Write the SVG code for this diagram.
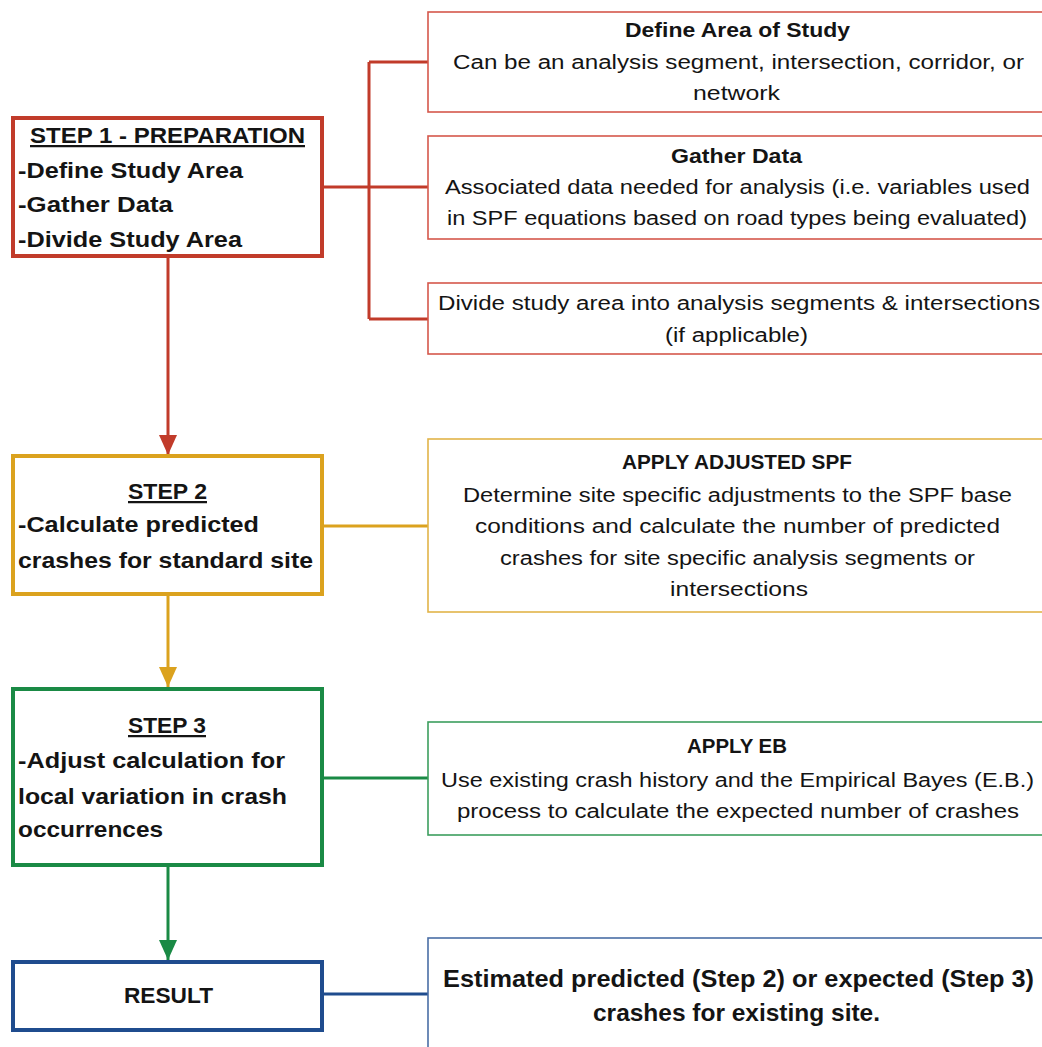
<svg xmlns="http://www.w3.org/2000/svg" width="1042" height="1047" viewBox="0 0 1042 1047">
<style>
text{font-family:"Liberation Sans",Arial,sans-serif;fill:#141414}
.lb{font-size:22.5px;font-weight:bold}
.hd{font-size:19.5px;font-weight:bold}
.bd{font-size:19.5px}
.rs{font-size:24.5px;font-weight:bold}
.u{text-decoration:underline}
.main{fill:#fff;stroke-width:4}
.side{fill:#fff;stroke-width:1.6}
.red{stroke:#C13B2A}
.redl{stroke:#D5584B}
.gold{stroke:#DBA21E}
.goldl{stroke:#E2B449}
.green{stroke:#1A8A45}
.greenl{stroke:#3C9E5E}
.blue{stroke:#1F4C8E}
.bluel{stroke:#4A6EA6}
.con{fill:none;stroke-width:3}
</style>
<defs>
<marker id="aRed" viewBox="0 0 20 18" refX="20" refY="9" markerWidth="20" markerHeight="18" markerUnits="userSpaceOnUse" orient="auto"><path d="M0,0L20,9L0,18Z" fill="#C13B2A"/></marker>
<marker id="aGold" viewBox="0 0 20 18" refX="20" refY="9" markerWidth="20" markerHeight="18" markerUnits="userSpaceOnUse" orient="auto"><path d="M0,0L20,9L0,18Z" fill="#DBA21E"/></marker>
<marker id="aGreen" viewBox="0 0 20 18" refX="20" refY="9" markerWidth="20" markerHeight="18" markerUnits="userSpaceOnUse" orient="auto"><path d="M0,0L20,9L0,18Z" fill="#1A8A45"/></marker>
</defs>

<g id="connectors">
<path class="con red" d="M324,187H428M369,62V319M369,62H428M369,319H428"/>
<path class="con red" d="M168,258V455" marker-end="url(#aRed)"/>
<path class="con gold" d="M324,526H428"/>
<path class="con gold" d="M168,596V687" marker-end="url(#aGold)"/>
<path class="con green" d="M324,778H428"/>
<path class="con green" d="M168,867V960" marker-end="url(#aGreen)"/>
<path class="con blue" d="M324,994H428"/>
</g>

<g id="step1">
<rect class="main red" x="13" y="118" width="309" height="138"/>
<text class="lb u" x="30" y="143" textLength="275" lengthAdjust="spacingAndGlyphs">STEP 1 - PREPARATION</text>
<text class="lb" x="18" y="178" textLength="225" lengthAdjust="spacingAndGlyphs">-Define Study Area</text>
<text class="lb" x="18" y="212" textLength="155" lengthAdjust="spacingAndGlyphs">-Gather Data</text>
<text class="lb" x="18" y="247" textLength="224" lengthAdjust="spacingAndGlyphs">-Divide Study Area</text>
</g>

<g id="define-area">
<rect class="side redl" x="428" y="12" width="618" height="100"/>
<text class="hd" x="737.5" y="37" text-anchor="middle" textLength="225" lengthAdjust="spacingAndGlyphs">Define Area of Study</text>
<text class="bd" x="738.5" y="69" text-anchor="middle" textLength="571" lengthAdjust="spacingAndGlyphs">Can be an analysis segment, intersection, corridor, or</text>
<text class="bd" x="736.5" y="100" text-anchor="middle" textLength="87" lengthAdjust="spacingAndGlyphs">network</text>
</g>

<g id="gather-data">
<rect class="side redl" x="428" y="136" width="618" height="103"/>
<text class="hd" x="736.5" y="163" text-anchor="middle" textLength="131" lengthAdjust="spacingAndGlyphs">Gather Data</text>
<text class="bd" x="737.5" y="194" text-anchor="middle" textLength="585" lengthAdjust="spacingAndGlyphs">Associated data needed for analysis (i.e. variables used</text>
<text class="bd" x="737" y="225" text-anchor="middle" textLength="580" lengthAdjust="spacingAndGlyphs">in SPF equations based on road types being evaluated)</text>
</g>

<g id="divide-area">
<rect class="side redl" x="428" y="283" width="618" height="71"/>
<text class="bd" x="739" y="310" text-anchor="middle" textLength="602" lengthAdjust="spacingAndGlyphs">Divide study area into analysis segments &amp; intersections</text>
<text class="bd" x="736.5" y="342" text-anchor="middle" textLength="143" lengthAdjust="spacingAndGlyphs">(if applicable)</text>
</g>

<g id="step2">
<rect class="main gold" x="13" y="456" width="309" height="138"/>
<text class="lb u" x="167.5" y="499" text-anchor="middle" textLength="79" lengthAdjust="spacingAndGlyphs">STEP 2</text>
<text class="lb" x="18" y="532" textLength="241" lengthAdjust="spacingAndGlyphs">-Calculate predicted</text>
<text class="lb" x="18" y="568" textLength="295" lengthAdjust="spacingAndGlyphs">crashes for standard site</text>
</g>

<g id="apply-spf">
<rect class="side goldl" x="428" y="439" width="618" height="173"/>
<text class="hd" x="737" y="469" text-anchor="middle" textLength="230" lengthAdjust="spacingAndGlyphs">APPLY ADJUSTED SPF</text>
<text class="bd" x="737.5" y="502" text-anchor="middle" textLength="549" lengthAdjust="spacingAndGlyphs">Determine site specific adjustments to the SPF base</text>
<text class="bd" x="737.5" y="533" text-anchor="middle" textLength="525" lengthAdjust="spacingAndGlyphs">conditions and calculate the number of predicted</text>
<text class="bd" x="737.5" y="565" text-anchor="middle" textLength="475" lengthAdjust="spacingAndGlyphs">crashes for site specific analysis segments or</text>
<text class="bd" x="739" y="596" text-anchor="middle" textLength="138" lengthAdjust="spacingAndGlyphs">intersections</text>
</g>

<g id="step3">
<rect class="main green" x="13" y="689" width="309" height="176"/>
<text class="lb u" x="167" y="733" text-anchor="middle" textLength="78" lengthAdjust="spacingAndGlyphs">STEP 3</text>
<text class="lb" x="18" y="768" textLength="267" lengthAdjust="spacingAndGlyphs">-Adjust calculation for</text>
<text class="lb" x="18" y="804" textLength="269" lengthAdjust="spacingAndGlyphs">local variation in crash</text>
<text class="lb" x="18" y="837" textLength="145" lengthAdjust="spacingAndGlyphs">occurrences</text>
</g>

<g id="apply-eb">
<rect class="side greenl" x="428" y="722" width="618" height="113"/>
<text class="hd" x="737" y="753" text-anchor="middle" textLength="100" lengthAdjust="spacingAndGlyphs">APPLY EB</text>
<text class="bd" x="737.5" y="787" text-anchor="middle" textLength="593" lengthAdjust="spacingAndGlyphs">Use existing crash history and the Empirical Bayes (E.B.)</text>
<text class="bd" x="738" y="818" text-anchor="middle" textLength="562" lengthAdjust="spacingAndGlyphs">process to calculate the expected number of crashes</text>
</g>

<g id="result">
<rect class="main blue" x="13" y="962" width="309" height="68"/>
<text class="lb" x="168.5" y="1003" text-anchor="middle" textLength="89" lengthAdjust="spacingAndGlyphs">RESULT</text>
</g>

<g id="result-detail">
<rect class="side bluel" x="428" y="938" width="618" height="120"/>
<text class="rs" x="738.5" y="987" text-anchor="middle" textLength="591" lengthAdjust="spacingAndGlyphs">Estimated predicted (Step 2) or expected (Step 3)</text>
<text class="rs" x="736.5" y="1021" text-anchor="middle" textLength="287" lengthAdjust="spacingAndGlyphs">crashes for existing site.</text>
</g>
</svg>
